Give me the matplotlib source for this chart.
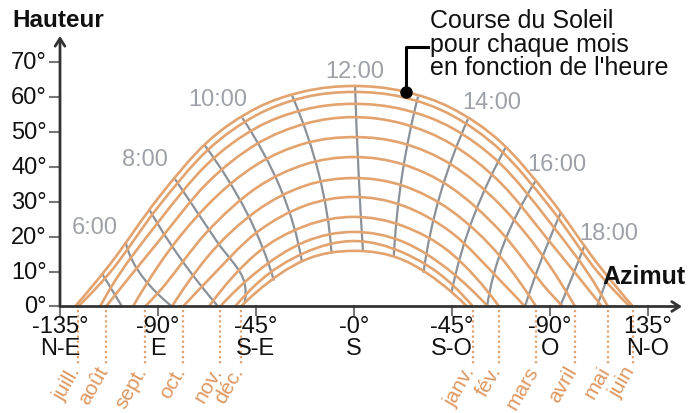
import numpy as np
import matplotlib
matplotlib.use("Agg")
import matplotlib.pyplot as plt
from matplotlib.path import Path
from matplotlib.patches import PathPatch

plt.rcParams['font.family'] = ['Liberation Sans', 'DejaVu Sans']

# --- data ------------------------------------------------------------------
months = ["janv.", "fév.", "mars", "avril", "mai", "juin",
          "juill.", "août", "sept.", "oct.", "nov.", "déc."]
# azimuth where each month's path meets the horizon (path is symmetric)
set_az = [54.6, 66.6, 83.6, 101.5, 116.6, 128.1, 126.7, 113.9, 95.9, 78.5, 61.5, 51.9]
# altitude of each month's path at these azimuths (nan = below horizon)
az_grid = [0, 22.5, 45, 67.5, 90, 112.5]
nan = np.nan
alt_0 = [18.7, 25.6, 36.7, 48.4, 57.9, 63.0, 61.3, 54.1, 42.7, 31.3, 21.3, 15.9]
alt_22 = [15.4, 23.0, 34.5, 46.6, 56.3, 61.5, 59.8, 52.2, 40.6, 28.8, 18.5, 13.3]
alt_45 = [6.3, 15.0, 27.2, 40.4, 51.0, 56.6, 54.6, 46.3, 33.8, 21.0, 9.7, 4.0]
alt_67 = [nan, nan, 14.0, 28.8, 40.6, 46.9, 44.5, 35.2, 21.3, 7.2, nan, nan]
alt_90 = [nan, nan, nan, 11.5, 24.0, 30.9, 28.4, 18.4, 3.9, nan, nan, nan]
alt_112 = [nan, nan, nan, nan, 4.5, 11.7, 9.4, nan, nan, nan, nan, nan]

# hour lines: sun position (azimuth, altitude) from top curve down
hours = list(range(5, 20))
hour_az = [
    [-115.6, -106.5],
    [-104.8, -96.5, -83.6],
    [-93.9, -75.3, -62.4],
    [-82.2, -63.0, -50.3, -50.2],
    [-68.6, -49.4, -36.8],
    [-51.3, -33.8, -23.9],
    [-28.4, -16.2, -10.3],
    [0.5, 2.0, 4.1],
    [29.4, 22.2, 18.3],
    [52.3, 39.8, 31.9],
    [69.6, 55.4, 44.8],
    [83.2, 69.0, 61.1],
    [94.9, 84.0, 78.5],
    [105.8, 100.0, 94.6],
    [116.6, 111.5],
]
hour_alt = [
    [9.3, 0.0],
    [18.3, 8.0, 0.0],
    [27.6, 10.0, 0.0],
    [36.4, 18.6, 6.8, 1.0],
    [46.1, 27.0, 7.4],
    [53.9, 33.8, 12.7],
    [60.2, 38.0, 15.2],
    [63.0, 39.6, 15.9],
    [60.0, 38.0, 14.4],
    [53.5, 32.5, 9.6],
    [45.4, 26.5, 4.1],
    [35.7, 18.3, 0.0],
    [26.7, 10.0, 0.0],
    [17.4, 8.2, 0.0],
    [8.6, 0.0],
]

hour_text = ["6:00", "8:00", "10:00", "12:00", "14:00", "16:00", "18:00"]

tick_az = [-135, -90, -45, 0, 45, 90, 135]
tick_deg = ["-135°", "-90°", "-45°", "-0°", "-45°", "-90°", "135°"]
tick_dir = ["N-E", "E", "S-E", "S", "S-O", "O", "N-O"]
alt_ticks = [0, 10, 20, 30, 40, 50, 60, 70]

ORANGE = "#e3a36f"
ORANGE_TXT = "#de9760"
GREY = "#8b9199"
GREY_TXT = "#9ea2a8"
DARK = "#333333"
FS = 17


def smooth_path(xs, ys):
    """Bezier path passing through the points (x monotone)."""
    xs = np.asarray(xs, float)
    ys = np.asarray(ys, float)
    n = len(xs)
    h = np.diff(xs)
    d = np.diff(ys) / h
    s = np.zeros(n)
    if n == 2:
        s[:] = d[0]
    else:
        for i in range(1, n - 1):
            s[i] = (h[i] * d[i - 1] + h[i - 1] * d[i]) / (h[i - 1] + h[i])
        s[0] = d[0] + (d[0] - d[1]) * h[0] / (h[0] + h[1])
        s[-1] = d[-1] + (d[-1] - d[-2]) * h[-1] / (h[-1] + h[-2])
    verts = [(xs[0], ys[0])]
    codes = [Path.MOVETO]
    for i in range(n - 1):
        verts += [(xs[i] + h[i] / 3, ys[i] + s[i] * h[i] / 3),
                  (xs[i + 1] - h[i] / 3, ys[i + 1] - s[i + 1] * h[i] / 3),
                  (xs[i + 1], ys[i + 1])]
        codes += [Path.CURVE4] * 3
    return np.array(verts), codes


fig = plt.figure(figsize=(6.9, 4.14), dpi=100)
ax = fig.add_axes([0, 0, 1, 1])
ax.set_xlim(-162.55, 154.28)
ax.set_ylim(-30.43, 87.86)
ax.axis("off")

# hour lines (grey)
for az, alt in zip(hour_az, hour_alt):
    v, c = smooth_path(alt[::-1], az[::-1])
    ax.add_patch(PathPatch(Path(v[:, ::-1], c), fill=False, ec=GREY, lw=1.6,
                           zorder=2, capstyle="butt"))

# month paths (orange)
alt_cols = [alt_0, alt_22, alt_45, alt_67, alt_90, alt_112]
for m in range(len(months)):
    a = [g for g, col in zip(az_grid, alt_cols) if not np.isnan(col[m])]
    h = [col[m] for col in alt_cols if not np.isnan(col[m])]
    xs = [-set_az[m]] + [-x for x in a[:0:-1]] + a + [set_az[m]]
    ys = [0] + h[:0:-1] + h + [0]
    v, c = smooth_path(xs, ys)
    ax.add_patch(PathPatch(Path(v, c), fill=False, ec=ORANGE, lw=1.9, zorder=3))

# month markers below the axis
for m, name in enumerate(months):
    x = set_az[m] if m < 6 else -set_az[m]
    ax.plot([x, x], [-1.0, -16.6], ls=(0, (1, 1.3)), color=ORANGE, lw=1.6, zorder=2)
    ax.text(x + 1.2, -18.0, name, rotation=60, rotation_mode="anchor",
            ha="right", va="baseline", fontsize=15, color=ORANGE_TXT)

# axes
ax.annotate("", xy=(150.6, 0), xytext=(-135, 0),
            arrowprops=dict(arrowstyle="->,head_length=0.55,head_width=0.35",
                            color=DARK, lw=2, shrinkA=0, shrinkB=0), zorder=5)
ax.annotate("", xy=(-135, 77.3), xytext=(-135, 0),
            arrowprops=dict(arrowstyle="->,head_length=0.55,head_width=0.35",
                            color=DARK, lw=2, shrinkA=0, shrinkB=0), zorder=5)

for t in alt_ticks:
    ax.plot([-139.6, -135], [t, t], color="#777777", lw=1.5, zorder=4)
    ax.text(-141.0, t, f"{t}°", ha="right", va="center", fontsize=FS, color="#111111")

for x, lab, dr in zip(tick_az, tick_deg, tick_dir):
    ax.plot([x, x], [0, -2.4], color="#777777", lw=1.5, zorder=4)
    ax.text(x, -5.6, lab, ha="center", va="center", fontsize=FS, color="#111111")
    ax.text(x, -11.9, dr, ha="center", va="center", fontsize=FS, color="#111111")

ax.text(-157.0, 82.1, "Hauteur", ha="left", va="center", fontsize=17.5,
        fontweight="bold", color="#111111")
ax.text(152.4, 8.7, "Azimut", ha="right", va="center", fontsize=18,
        fontweight="bold", color="#111111")

# hour labels
hour_pos = [(-118.9, 22.7), (-96.0, 42.1), (-62.4, 59.3), (0.5, 67.3),
            (63.4, 58.4), (93.2, 40.7), (117.1, 21.0)]
for txt, (x, y) in zip(hour_text, hour_pos):
    ax.text(x, y, txt, ha="center", va="center", fontsize=17, color=GREY_TXT)

# callout
ax.plot([23.9, 23.9, 34.0], [61.2, 74.1, 74.1], color="black", lw=2.2, zorder=6)
ax.plot([23.9], [61.2], "o", color="black", ms=8, zorder=7)
ax.text(34.9, 85.2, "Course du Soleil\npour chaque mois\nen fonction de l'heure",
        ha="left", va="top", fontsize=18, color="#111111", linespacing=0.97)

fig.savefig("out.png", dpi=100)
